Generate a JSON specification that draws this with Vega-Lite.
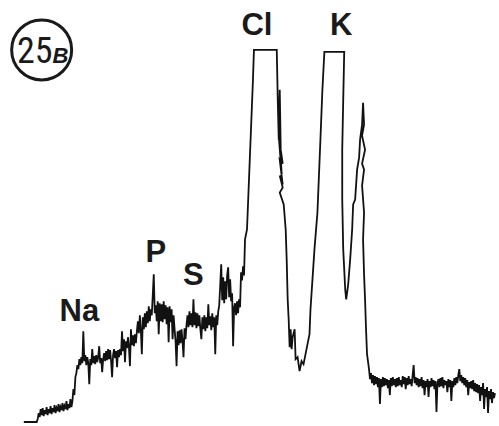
{
  "$schema": "https://vega.github.io/schema/vega-lite/v6.json",
  "width": 499,
  "height": 426,
  "autosize": {"type": "fit", "contains": "padding"},
  "padding": 0,
  "background": "white",
  "config": {"view": {"stroke": null}},
  "datasets": {
    "spectrum": [
      {"channel":24,"counts":3},{"channel":37,"counts":3},
      {"channel":38,"counts":6},{"channel":39,"counts":12},{"channel":40,"counts":8},{"channel":41,"counts":16},{"channel":42,"counts":10},{"channel":43,"counts":17},{"channel":44,"counts":9},{"channel":45,"counts":15},{"channel":46,"counts":11},{"channel":47,"counts":18},{"channel":48,"counts":10},{"channel":49,"counts":16},{"channel":50,"counts":12},{"channel":51,"counts":19},{"channel":52,"counts":11},{"channel":53,"counts":17},{"channel":54,"counts":13},{"channel":55,"counts":20},{"channel":56,"counts":12},{"channel":57,"counts":17},{"channel":58,"counts":14},{"channel":59,"counts":21},{"channel":60,"counts":13},{"channel":61,"counts":18},{"channel":62,"counts":15},{"channel":63,"counts":22},{"channel":64,"counts":14},{"channel":65,"counts":19},{"channel":66,"counts":16},{"channel":67,"counts":24},{"channel":68,"counts":15},{"channel":69,"counts":21},{"channel":70,"counts":17},{"channel":71,"counts":26},{"channel":72,"counts":18},{"channel":73,"counts":24},
      {"channel":74,"counts":36},{"channel":75,"counts":30},{"channel":76,"counts":48},{"channel":77,"counts":52},{"channel":78,"counts":60},{"channel":79,"counts":56},{"channel":80,"counts":66},{"channel":81,"counts":60},{"channel":82,"counts":68},{"channel":83,"counts":62},
      {"channel":84,"counts":94},{"channel":85,"counts":64},
      {"channel":86,"counts":70},{"channel":87,"counts":60},{"channel":88,"counts":68},{"channel":89,"counts":62},{"channel":90,"counts":41},{"channel":91,"counts":66},{"channel":92,"counts":60},{"channel":93,"counts":76},{"channel":94,"counts":62},{"channel":95,"counts":69},{"channel":96,"counts":61},{"channel":97,"counts":70},{"channel":98,"counts":63},{"channel":99,"counts":68},{"channel":100,"counts":79},{"channel":101,"counts":62},{"channel":102,"counts":67},{"channel":103,"counts":53},{"channel":104,"counts":66},{"channel":105,"counts":72},{"channel":106,"counts":64},{"channel":107,"counts":74},{"channel":108,"counts":65},{"channel":109,"counts":76},{"channel":110,"counts":66},{"channel":111,"counts":75},{"channel":112,"counts":64},{"channel":113,"counts":48},{"channel":114,"counts":70},{"channel":115,"counts":76},{"channel":116,"counts":67},{"channel":117,"counts":74},{"channel":118,"counts":58},{"channel":119,"counts":75},{"channel":120,"counts":68},{"channel":121,"counts":76},{"channel":122,"counts":70},
      {"channel":123,"counts":94},{"channel":124,"counts":74},
      {"channel":125,"counts":86},{"channel":126,"counts":63},{"channel":127,"counts":84},{"channel":128,"counts":77},{"channel":129,"counts":88},{"channel":130,"counts":78},{"channel":131,"counts":59},{"channel":132,"counts":96},{"channel":133,"counts":80},{"channel":134,"counts":90},{"channel":135,"counts":79},{"channel":136,"counts":91},{"channel":137,"counts":82},
      {"channel":138,"counts":94},{"channel":139,"counts":104},{"channel":140,"counts":92},{"channel":141,"counts":110},{"channel":142,"counts":95},{"channel":143,"counts":71},{"channel":144,"counts":108},{"channel":145,"counts":96},{"channel":146,"counts":112},{"channel":147,"counts":98},{"channel":148,"counts":114},{"channel":149,"counts":102},{"channel":150,"counts":119},{"channel":151,"counts":104},{"channel":152,"counts":116},
      {"channel":153,"counts":110},{"channel":154,"counts":130},{"channel":155,"counts":151},{"channel":156,"counts":112},
      {"channel":157,"counts":120},{"channel":158,"counts":104},{"channel":159,"counts":124},{"channel":160,"counts":91},{"channel":161,"counts":122},{"channel":162,"counts":104},{"channel":163,"counts":121},{"channel":164,"counts":103},{"channel":165,"counts":124},{"channel":166,"counts":106},{"channel":167,"counts":120},{"channel":168,"counts":101},{"channel":169,"counts":118},{"channel":170,"counts":83},{"channel":171,"counts":119},{"channel":172,"counts":103},{"channel":173,"counts":116},{"channel":174,"counts":86},{"channel":175,"counts":110},
      {"channel":176,"counts":96},{"channel":177,"counts":84},{"channel":178,"counts":59},{"channel":179,"counts":94},{"channel":180,"counts":80},{"channel":181,"counts":95},{"channel":182,"counts":82},{"channel":183,"counts":96},{"channel":184,"counts":84},{"channel":185,"counts":68},{"channel":186,"counts":97},{"channel":187,"counts":86},{"channel":188,"counts":100},
      {"channel":189,"counts":110},{"channel":190,"counts":98},{"channel":191,"counts":114},{"channel":192,"counts":100},{"channel":193,"counts":112},{"channel":194,"counts":98},{"channel":195,"counts":126},{"channel":196,"counts":100},{"channel":197,"counts":113},{"channel":198,"counts":97},{"channel":199,"counts":112},{"channel":200,"counts":99},{"channel":201,"counts":110},{"channel":202,"counts":96},{"channel":203,"counts":86},
      {"channel":204,"counts":108},{"channel":205,"counts":96},{"channel":206,"counts":110},{"channel":207,"counts":94},{"channel":208,"counts":108},{"channel":209,"counts":97},{"channel":210,"counts":121},{"channel":211,"counts":100},{"channel":212,"counts":109},{"channel":213,"counts":95},{"channel":214,"counts":112},{"channel":215,"counts":98},{"channel":216,"counts":108},{"channel":217,"counts":71},{"channel":218,"counts":110},{"channel":219,"counts":100},{"channel":220,"counts":114},
      {"channel":221,"counts":120},{"channel":222,"counts":140},{"channel":223,"counts":161},{"channel":224,"counts":125},{"channel":225,"counts":148},{"channel":226,"counts":122},{"channel":227,"counts":144},{"channel":228,"counts":126},{"channel":229,"counts":150},{"channel":230,"counts":158},{"channel":231,"counts":128},{"channel":232,"counts":146},{"channel":233,"counts":124},
      {"channel":234,"counts":132},{"channel":235,"counts":79},{"channel":236,"counts":118},
      {"channel":237,"counts":122},{"channel":238,"counts":110},{"channel":239,"counts":124},{"channel":240,"counts":112},{"channel":241,"counts":126},{"channel":242,"counts":118},
      {"channel":243,"counts":153},{"channel":244,"counts":145},{"channel":245,"counts":159},{"channel":246,"counts":150},{"channel":247,"counts":186},{"channel":249,"counts":196},{"channel":251,"counts":246},{"channel":253,"counts":296},{"channel":255,"counts":346},{"channel":256,"counts":376},
      {"channel":279,"counts":376},{"channel":280,"counts":326},{"channel":281,"counts":286},{"channel":282,"counts":336},{"channel":283,"counts":276},{"channel":281,"counts":301},{"channel":284,"counts":251},{"channel":281,"counts":290},{"channel":285,"counts":262},{"channel":282,"counts":266},{"channel":285,"counts":241},{"channel":282,"counts":250},{"channel":285,"counts":238},{"channel":282,"counts":233},{"channel":286,"counts":221},
      {"channel":288,"counts":196},{"channel":289,"counts":166},{"channel":290,"counts":126},{"channel":291,"counts":106},{"channel":292,"counts":78},{"channel":293,"counts":96},{"channel":294,"counts":76},{"channel":295,"counts":88},{"channel":297,"counts":96},{"channel":298,"counts":66},{"channel":300,"counts":68},{"channel":302,"counts":54},{"channel":304,"counts":64},{"channel":306,"counts":61},{"channel":308,"counts":71},{"channel":310,"counts":81},{"channel":312,"counts":91},{"channel":313,"counts":116},{"channel":315,"counts":146},{"channel":317,"counts":176},{"channel":320,"counts":213},{"channel":323,"counts":286},{"channel":325,"counts":336},{"channel":327,"counts":374},
      {"channel":347,"counts":374},{"channel":346,"counts":326},{"channel":345,"counts":276},{"channel":345,"counts":226},{"channel":346,"counts":176},{"channel":348,"counts":136},{"channel":349,"counts":126},{"channel":351,"counts":141},{"channel":353,"counts":166},{"channel":355,"counts":196},{"channel":356,"counts":221},{"channel":358,"counts":226},{"channel":360,"counts":256},{"channel":362,"counts":268},{"channel":363,"counts":286},{"channel":365,"counts":301},{"channel":366,"counts":323},{"channel":367,"counts":301},{"channel":365,"counts":290},{"channel":368,"counts":276},{"channel":365,"counts":262},{"channel":367,"counts":256},{"channel":365,"counts":240},{"channel":367,"counts":213},{"channel":366,"counts":186},{"channel":367,"counts":151},{"channel":368,"counts":126},{"channel":369,"counts":96},{"channel":370,"counts":71},
      {"channel":372,"counts":56},{"channel":373,"counts":46},{"channel":374,"counts":52},{"channel":375,"counts":42},{"channel":376,"counts":50},{"channel":377,"counts":40},{"channel":378,"counts":49},{"channel":379,"counts":41},{"channel":380,"counts":48},{"channel":381,"counts":38},{"channel":382,"counts":47},{"channel":383,"counts":21},{"channel":384,"counts":46},{"channel":385,"counts":38},{"channel":386,"counts":48},{"channel":387,"counts":39},{"channel":388,"counts":47},{"channel":389,"counts":40},{"channel":390,"counts":46},{"channel":391,"counts":37},{"channel":392,"counts":45},{"channel":393,"counts":30},{"channel":394,"counts":47},{"channel":395,"counts":39},{"channel":396,"counts":48},{"channel":397,"counts":40},{"channel":398,"counts":46},{"channel":399,"counts":38},{"channel":400,"counts":47},{"channel":401,"counts":39},{"channel":402,"counts":48},{"channel":403,"counts":40},{"channel":404,"counts":45},{"channel":405,"counts":38},{"channel":406,"counts":49},{"channel":407,"counts":41},{"channel":408,"counts":48},{"channel":409,"counts":36},{"channel":410,"counts":47},{"channel":411,"counts":40},{"channel":412,"counts":49},{"channel":413,"counts":41},{"channel":414,"counts":46},{"channel":415,"counts":39},{"channel":416,"counts":50},{"channel":417,"counts":60},{"channel":418,"counts":42},{"channel":419,"counts":48},{"channel":420,"counts":40},{"channel":421,"counts":47},{"channel":422,"counts":38},{"channel":423,"counts":46},{"channel":424,"counts":39},{"channel":425,"counts":48},{"channel":426,"counts":37},{"channel":427,"counts":45},{"channel":428,"counts":30},{"channel":429,"counts":44},{"channel":430,"counts":38},{"channel":431,"counts":46},{"channel":432,"counts":28},{"channel":433,"counts":44},{"channel":434,"counts":38},{"channel":435,"counts":47},{"channel":436,"counts":39},{"channel":437,"counts":45},{"channel":438,"counts":36},{"channel":439,"counts":44},{"channel":440,"counts":13},{"channel":441,"counts":42},{"channel":442,"counts":46},{"channel":443,"counts":38},{"channel":444,"counts":47},{"channel":445,"counts":39},{"channel":446,"counts":48},{"channel":447,"counts":37},{"channel":448,"counts":45},{"channel":449,"counts":40},{"channel":450,"counts":44},{"channel":451,"counts":33},{"channel":452,"counts":46},{"channel":453,"counts":38},{"channel":454,"counts":45},{"channel":455,"counts":24},{"channel":456,"counts":44},{"channel":457,"counts":38},{"channel":458,"counts":47},{"channel":459,"counts":40},{"channel":460,"counts":48},{"channel":461,"counts":42},{"channel":462,"counts":50},{"channel":463,"counts":56},{"channel":464,"counts":44},{"channel":465,"counts":50},{"channel":466,"counts":42},{"channel":467,"counts":48},{"channel":468,"counts":40},{"channel":469,"counts":47},{"channel":470,"counts":38},{"channel":471,"counts":45},{"channel":472,"counts":30},{"channel":473,"counts":43},{"channel":474,"counts":37},{"channel":475,"counts":44},{"channel":476,"counts":36},{"channel":477,"counts":45},{"channel":478,"counts":34},{"channel":479,"counts":42},{"channel":480,"counts":33},{"channel":481,"counts":41},{"channel":482,"counts":32},{"channel":483,"counts":40},{"channel":484,"counts":24},{"channel":485,"counts":38},{"channel":486,"counts":30},{"channel":487,"counts":42},{"channel":488,"counts":16},{"channel":489,"counts":36},{"channel":490,"counts":28},{"channel":491,"counts":38},{"channel":492,"counts":12},{"channel":493,"counts":34},{"channel":494,"counts":26},{"channel":495,"counts":36},{"channel":496,"counts":22},{"channel":497,"counts":33},{"channel":498,"counts":27},{"channel":499,"counts":32}
    ],
    "elements": [
      {"channel":80,"counts":104,"label":"Na"},
      {"channel":157,"counts":163,"label":"P"},
      {"channel":195,"counts":140,"label":"S"},
      {"channel":259,"counts":391,"label":"Cl"},
      {"channel":344,"counts":391,"label":"K"}
    ],
    "panel": [
      {"channel":42,"counts":376,"num":"25","letter":"B","numx":35,"letx":61,"texty":363}
    ]
  },
  "layer": [
    {
      "data": {"name": "spectrum"},
      "mark": {"type": "line", "color": "#111111", "strokeWidth": 1.8, "strokeJoin": "miter"},
      "encoding": {
        "x": {"field": "channel", "type": "quantitative", "scale": {"domain": [0, 499], "nice": false, "zero": false}, "axis": null},
        "y": {"field": "counts", "type": "quantitative", "scale": {"domain": [0, 426], "nice": false}, "axis": null},
        "order": {"value": null}
      }
    },
    {
      "data": {"name": "elements"},
      "mark": {"type": "text", "font": "Liberation Sans", "fontWeight": "bold", "fontSize": 31, "align": "center", "baseline": "alphabetic", "color": "#1a1a1a"},
      "encoding": {
        "x": {"field": "channel", "type": "quantitative"},
        "y": {"field": "counts", "type": "quantitative"},
        "text": {"field": "label"}
      }
    },
    {
      "data": {"name": "panel"},
      "mark": {"type": "point", "shape": "circle", "filled": false, "size": 3600, "color": "#1a1a1a", "strokeWidth": 3, "opacity": 1},
      "encoding": {
        "x": {"field": "channel", "type": "quantitative"},
        "y": {"field": "counts", "type": "quantitative"}
      }
    },
    {
      "data": {"name": "panel"},
      "mark": {"type": "text", "font": "Roboto Condensed, DejaVu Sans Condensed, Liberation Sans Narrow, Roboto, sans-serif", "fontSize": 36, "align": "center", "baseline": "alphabetic", "color": "#1a1a1a"},
      "encoding": {
        "x": {"field": "numx", "type": "quantitative"},
        "y": {"field": "texty", "type": "quantitative"},
        "text": {"field": "num"}
      }
    },
    {
      "data": {"name": "panel"},
      "mark": {"type": "text", "font": "Liberation Sans", "fontWeight": "bold", "fontStyle": "italic", "fontSize": 22, "align": "center", "baseline": "alphabetic", "color": "#1a1a1a"},
      "encoding": {
        "x": {"field": "letx", "type": "quantitative"},
        "y": {"field": "texty", "type": "quantitative"},
        "text": {"field": "letter"}
      }
    }
  ]
}
